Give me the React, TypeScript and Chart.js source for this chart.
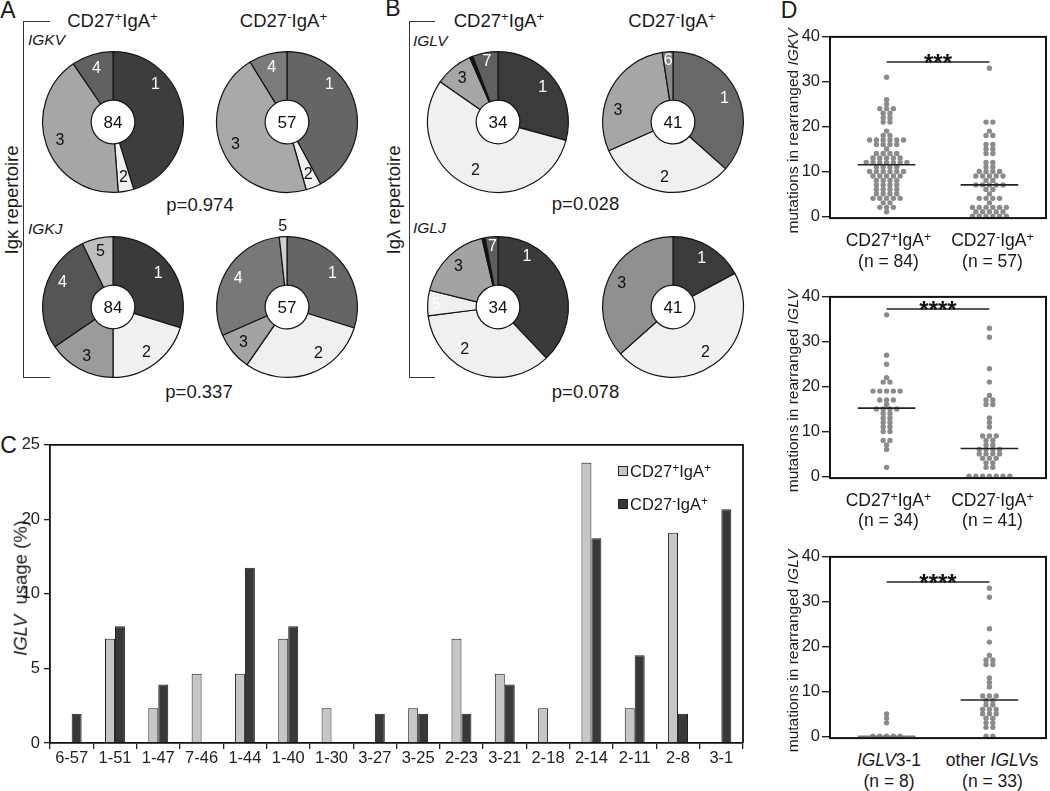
import React, { useEffect, useRef } from "react";
import { Chart, registerables } from "chart.js";
Chart.register(...registerables);

const FONT = '"Liberation Sans", Arial, Helvetica, sans-serif';
const INK = "#1a1a1a";

// ---------- Panel A / B : doughnut segment counts ----------
const igkvSegments = ["1", "2", "3", "4"];
const igkvCD27pos = [38, 3, 35, 8];
const igkvCD27neg = [24, 2, 26, 5];
const igkjSegments = ["1", "2", "3", "4", "5"];
const igkjCD27pos = [25, 17, 13, 23, 6];
const igkjCD27neg = [17, 17, 5, 17, 1];
const iglvSegPos = ["1", "2", "3", "", "7"];
const iglvCD27pos = [10, 19, 3, 0.25, 2];
const iglvSegNeg = ["1", "2", "3", "6"];
const iglvCD27neg = [15, 13, 12, 1];
const igljSegPos = ["1", "2", "5", "3", "", "7"];
const igljCD27pos = [13, 12, 2, 6, 0.25, 1];
const igljSegNeg = ["1", "2", "3"];
const igljCD27neg = [7, 19, 15];
const donutTotals = [84, 57, 84, 57, 34, 41, 34, 41];
const pValues = ["p=0.974", "p=0.337", "p=0.028", "p=0.078"];

// ---------- Panel C : IGLV usage ----------
const iglvGenes = ["6-57", "1-51", "1-47", "7-46", "1-44", "1-40", "1-30", "3-27", "3-25", "2-23", "3-21", "2-18", "2-14", "2-11", "2-8", "3-1"];
const usageCD27pos = [0, 7.0, 2.33, 4.65, 4.65, 7.0, 2.33, 0, 2.33, 7.0, 4.65, 2.33, 18.8, 2.33, 14.1, 0];
const usageCD27neg = [1.96, 7.84, 3.92, 0, 11.76, 7.84, 0, 1.96, 1.96, 1.96, 3.92, 0, 13.73, 5.88, 1.96, 15.69];
const usageTicks = [0, 5, 10, 15, 20];
const usageTickLabels = ["0", "5", "10", "20", "25"];

// ---------- Panel D : mutation counts ----------
const igkvMutPos = [31, 26, 25, 24, 24, 24, 23, 23, 22, 22, 21, 21, 19, 18, 18, 17, 17, 17, 17, 17, 17, 16, 16, 16, 16, 15, 14, 14, 14, 14, 13, 13, 13, 13, 13, 12, 12, 12, 12, 12, 12, 12, 11, 11, 11, 11, 10, 10, 10, 10, 10, 10, 9, 9, 9, 9, 9, 8, 8, 8, 8, 7, 7, 7, 7, 6, 6, 6, 6, 5, 5, 5, 5, 4, 4, 4, 4, 4, 3, 3, 2, 2, 2, 1];
const igkvMutNeg = [33, 21, 21, 19, 18, 18, 16, 16, 15, 15, 14, 14, 12, 12, 11, 11, 10, 10, 10, 10, 9, 9, 9, 9, 9, 8, 8, 7, 7, 7, 7, 7, 6, 6, 5, 4, 4, 4, 4, 3, 2, 2, 2, 2, 2, 2, 1, 1, 1, 1, 1, 0, 0, 0, 0, 0, 0];
const iglvMutPos = [36, 27, 25, 22, 21, 21, 19, 19, 19, 19, 19, 17, 17, 17, 16, 15, 15, 15, 15, 14, 14, 13, 13, 12, 12, 11, 11, 10, 10, 8, 8, 7, 6, 2];
const iglvMutNeg = [33, 31, 24, 21, 18, 17, 17, 16, 16, 13, 12, 11, 9, 9, 9, 8, 8, 7, 7, 6, 6, 6, 6, 5, 5, 5, 5, 4, 4, 4, 3, 3, 2, 2, 0, 0, 0, 0, 0, 0, 0];
const iglv31Mut = [5, 4, 3, 0, 0, 0, 0, 0];
const otherIglvMut = [33, 31, 24, 21, 18, 17, 17, 16, 16, 13, 12, 11, 9, 9, 9, 8, 8, 7, 7, 6, 6, 6, 5, 5, 5, 4, 4, 3, 3, 2, 2, 0, 0];
const mutMedians = [[11.5, 7], [15.2, 6.2], [0, 8.1]];
const mutSigY = [34.4, 37.3, 34.4];
const mutStars = ["***", "****", "****"];
const mutTicks = [0, 10, 20, 30, 40];

const DOT_SPACING = 0.066;

const Sup = ({ c }: { c: string }) => (
  <span style={{ fontSize: "0.72em", position: "relative", top: "-0.42em" }}>{c}</span>
);
const CD = ({ s }: { s: string }) => (
  <span>CD27<Sup c={s} />IgA<Sup c="+" /></span>
);

function Txt({ x, y, size = 18, children, rotate = false, left = false, style = {} }: any) {
  return (
    <div
      style={{
        position: "absolute",
        left: x,
        top: y,
        transform: left ? "translate(0,-50%)" : rotate ? "translate(-50%,-50%) rotate(-90deg)" : "translate(-50%,-50%)",
        whiteSpace: "nowrap",
        fontSize: size,
        lineHeight: 1,
        color: INK,
        ...style,
      }}
    >
      {children}
    </div>
  );
}

function Donut({ cx, cy, values, labels, colors, labelColors, total, angles = [], radii = [] }: any) {
  const ref = useRef<HTMLCanvasElement>(null);
  useEffect(() => {
    const plugin = {
      id: "donutText",
      afterDraw(chart: any) {
        const meta = chart.getDatasetMeta(0);
        const ctx = chart.ctx;
        ctx.save();
        ctx.textAlign = "center";
        ctx.textBaseline = "middle";
        ctx.font = `16px ${FONT}`;
        let px = 0, py = 0;
        meta.data.forEach((arc: any, i: number) => {
          const p = arc.getProps(["x", "y", "startAngle", "endAngle", "outerRadius"], true);
          px = p.x; py = p.y;
          const lab = labels[i];
          if (!lab) return;
          const a = angles[i] != null ? ((angles[i] - 90) * Math.PI) / 180 : (p.startAngle + p.endAngle) / 2;
          const r = p.outerRadius * (radii[i] != null ? radii[i] : 0.8);
          ctx.fillStyle = labelColors[i];
          ctx.fillText(lab, p.x + Math.cos(a) * r, p.y + Math.sin(a) * r);
        });
        ctx.font = `17px ${FONT}`;
        ctx.fillStyle = "#111";
        ctx.fillText(String(total), px, py + 1);
        ctx.restore();
      },
    };
    const chart = new Chart(ref.current as HTMLCanvasElement, {
      type: "doughnut",
      data: {
        labels: labels,
        datasets: [{ data: values, backgroundColor: colors, borderColor: "#141414", borderWidth: 1.2 }],
      },
      options: {
        responsive: false,
        animation: false,
        cutout: "31%",
        layout: { padding: 24 },
        plugins: { legend: { display: false }, tooltip: { enabled: false } },
      } as any,
      plugins: [plugin],
    });
    return () => chart.destroy();
  }, []);
  return (
    <canvas
      ref={ref}
      width={190}
      height={190}
      style={{ position: "absolute", left: cx - 95, top: cy - 95, width: 190, height: 190 }}
    />
  );
}

function BarChartC() {
  const ref = useRef<HTMLCanvasElement>(null);
  useEffect(() => {
    const frame = {
      id: "frameC",
      afterDraw(chart: any) {
        const { left, right, top, bottom } = chart.chartArea;
        const ctx = chart.ctx;
        ctx.save();
        ctx.strokeStyle = "#111";
        ctx.lineWidth = 1.8;
        ctx.beginPath();
        ctx.moveTo(left, top);
        ctx.lineTo(right, top);
        ctx.lineTo(right, bottom);
        ctx.stroke();
        ctx.restore();
      },
    };
    const chart = new Chart(ref.current as HTMLCanvasElement, {
      type: "bar",
      data: {
        labels: iglvGenes,
        datasets: [
          { label: "CD27+IgA+", data: usageCD27pos, backgroundColor: "#c6c6c6", borderColor: "#1e1e1e", borderWidth: 1, categoryPercentage: 0.46, barPercentage: 1 },
          { label: "CD27-IgA+", data: usageCD27neg, backgroundColor: "#383838", borderColor: "#1e1e1e", borderWidth: 1, categoryPercentage: 0.46, barPercentage: 1 },
        ],
      },
      options: {
        responsive: false,
        animation: false,
        layout: { padding: { top: 10, right: 10, left: 0, bottom: 0 } },
        plugins: { legend: { display: false }, tooltip: { enabled: false } },
        scales: {
          x: {
            grid: { display: true, drawOnChartArea: false, drawTicks: true, tickLength: 6, color: "#222", lineWidth: 1.3, offset: true },
            border: { display: true, color: "#111", width: 1.8 },
            ticks: { font: { family: FONT, size: 16.5 }, color: "#222", padding: 0, maxRotation: 0, autoSkip: false },
            afterFit: (s: any) => { s.height = 28; },
          },
          y: {
            min: 0,
            max: 20,
            afterBuildTicks: (s: any) => { s.ticks = usageTicks.map((v) => ({ value: v })); },
            ticks: {
              callback: (_v: any, i: number) => usageTickLabels[i],
              font: { family: FONT, size: 16.5 },
              color: "#222",
              padding: 4,
            },
            grid: { drawOnChartArea: false, tickLength: 6, color: "#222", lineWidth: 1.3 },
            border: { display: true, color: "#111", width: 1.8 },
            afterFit: (s: any) => { s.width = 50; },
          },
        },
      } as any,
      plugins: [frame],
    });
    return () => chart.destroy();
  }, []);
  return <canvas ref={ref} width={753} height={340} style={{ position: "absolute", left: 0, top: 431, width: 753, height: 340 }} />;
}

function DotPlot({ top, groups, medians, medianColors, sigY, stars }: any) {
  const ref = useRef<HTMLCanvasElement>(null);
  useEffect(() => {
    const datasets: any[] = [];
    groups.forEach((vals: number[], gi: number) => {
      const totals = new Map<number, number>();
      vals.forEach((v) => totals.set(v, (totals.get(v) || 0) + 1));
      const seen = new Map<number, number>();
      const pts = vals.map((v) => {
        const n = totals.get(v) as number;
        const k = seen.get(v) || 0;
        seen.set(v, k + 1);
        return { x: gi + (k - (n - 1) / 2) * DOT_SPACING, y: v };
      });
      datasets.push({ data: pts, pointRadius: 2.7, pointBackgroundColor: "#8b8b8b", pointBorderColor: "#8b8b8b", pointBorderWidth: 0, showLine: false, order: 2, clip: false });
      datasets.push({ data: [{ x: gi - 0.28, y: medians[gi] }, { x: gi + 0.28, y: medians[gi] }], showLine: true, borderColor: medianColors[gi], borderWidth: 1.6, pointRadius: 0, order: 1, clip: false });
    });
    datasets.push({ data: [{ x: 0, y: sigY }, { x: 1, y: sigY }], showLine: true, borderColor: "#222", borderWidth: 1.3, pointRadius: 0, order: 1 });
    const deco = {
      id: "decoD",
      afterDraw(chart: any) {
        const { left, right, top: t, bottom } = chart.chartArea;
        const ctx = chart.ctx;
        ctx.save();
        ctx.strokeStyle = "#111";
        ctx.lineWidth = 2;
        ctx.strokeRect(left, t, right - left, bottom - t);
        const xs = chart.scales.x, ys = chart.scales.y;
        ctx.fillStyle = "#111";
        ctx.font = `bold 24px ${FONT}`;
        ctx.textAlign = "center";
        ctx.textBaseline = "alphabetic";
        ctx.fillText(stars, xs.getPixelForValue(0.5), ys.getPixelForValue(sigY) + 9);
        ctx.restore();
      },
    };
    const chart = new Chart(ref.current as HTMLCanvasElement, {
      type: "scatter",
      data: { datasets },
      options: {
        responsive: false,
        animation: false,
        layout: { padding: { top: 10, right: 1, bottom: 7, left: 0 } },
        plugins: { legend: { display: false }, tooltip: { enabled: false } },
        scales: {
          x: { type: "linear", min: -0.55, max: 1.55, display: false },
          y: {
            min: -0.4,
            max: 40,
            afterBuildTicks: (s: any) => { s.ticks = mutTicks.map((v) => ({ value: v })); },
            ticks: { font: { family: FONT, size: 16.5 }, color: "#222", padding: 2 },
            grid: { drawOnChartArea: false, tickLength: 8, color: "#222", lineWidth: 1.4 },
            border: { display: true, color: "#111", width: 2 },
            afterFit: (s: any) => { s.width = 60; },
          },
        },
      } as any,
      plugins: [deco],
    });
    return () => chart.destroy();
  }, []);
  return <canvas ref={ref} width={280} height={205} style={{ position: "absolute", left: 770, top, width: 280, height: 205 }} />;
}

const I = ({ t }: { t: string }) => <span style={{ fontStyle: "italic" }}>{t}</span>;

export default function App() {
  const LIGHT = "#f0f0f0";
  const W = "#ffffff", K = "#111111";
  return (
    <div style={{ position: "absolute", left: 0, top: 0, width: 1050, height: 791, background: "#fff", fontFamily: FONT, color: INK, overflow: "hidden" }}>
      {/* panel letters */}
      <Txt x={8} y={10} size={23}>A</Txt>
      <Txt x={393} y={8} size={23}>B</Txt>
      <Txt x={8.5} y={445} size={23}>C</Txt>
      <Txt x={789} y={10} size={23}>D</Txt>

      {/* brackets */}
      <div style={{ position: "absolute", left: 23, top: 21, width: 26, height: 355, borderLeft: "1.3px solid #333", borderTop: "1.3px solid #333", borderBottom: "1.3px solid #333" }} />
      <div style={{ position: "absolute", left: 409, top: 21, width: 25, height: 355, borderLeft: "1.3px solid #333", borderTop: "1.3px solid #333", borderBottom: "1.3px solid #333" }} />
      <Txt x={12} y={200} size={18.5} rotate>Igκ repertoire</Txt>
      <Txt x={394} y={200} size={18.5} rotate>Igλ repertoire</Txt>

      {/* column titles */}
      <Txt x={112.5} y={20.5} size={18.5}><CD s="+" /></Txt>
      <Txt x={283.5} y={20.5} size={18.5}><CD s="-" /></Txt>
      <Txt x={499} y={20.5} size={18.5}><CD s="+" /></Txt>
      <Txt x={672} y={20.5} size={18.5}><CD s="-" /></Txt>

      <Txt x={28} y={40} size={15.5} left><I t="IGKV" /></Txt>
      <Txt x={28} y={229} size={15.5} left><I t="IGKJ" /></Txt>
      <Txt x={413} y={41} size={15.5} left><I t="IGLV" /></Txt>
      <Txt x={413} y={228} size={15.5} left><I t="IGLJ" /></Txt>

      <Txt x={200} y={205} size={18.5}>{pValues[0]}</Txt>
      <Txt x={199} y={392} size={18.5}>{pValues[1]}</Txt>
      <Txt x={585.5} y={204} size={18.5}>{pValues[2]}</Txt>
      <Txt x={585.5} y={392} size={18.5}>{pValues[3]}</Txt>

      <Donut cx={113} cy={122} values={igkvCD27pos} labels={igkvSegments} total={donutTotals[0]}
        colors={["#3d3d3d", LIGHT, "#a6a6a6", "#606060"]} labelColors={[W, K, K, W]} angles={[49]} />
      <Donut cx={287} cy={122} values={igkvCD27neg} labels={igkvSegments} total={donutTotals[1]}
        colors={["#656565", LIGHT, "#a9a9a9", "#7b7b7b"]} labelColors={[W, K, K, W]} angles={[49]} />
      <Donut cx={113} cy={307} values={igkjCD27pos} labels={igkjSegments} total={donutTotals[2]}
        colors={["#3a3a3a", LIGHT, "#9b9b9b", "#555555", "#bebebe"]} labelColors={[W, K, K, W, K]} angles={[null, null, null, 296]} />
      <Donut cx={287} cy={307} values={igkjCD27neg} labels={igkjSegments} total={donutTotals[3]}
        colors={["#656565", LIGHT, "#a3a3a3", "#787878", "#cfcfcf"]} labelColors={[W, K, K, W, K]} angles={[null, 146, null, null, 357]} radii={[null, null, null, null, 1.15]} />

      <Donut cx={498} cy={122} values={iglvCD27pos} labels={iglvSegPos} total={donutTotals[4]}
        colors={["#3b3b3b", LIGHT, "#a6a6a6", "#111111", "#606060"]} labelColors={[W, K, K, W, W]} radii={[0.8, 0.76, 0.8, 0.8, 0.87]} />
      <Donut cx={672.5} cy={122} values={iglvCD27neg} labels={iglvSegNeg} total={donutTotals[5]}
        colors={["#686868", LIGHT, "#a6a6a6", "#888888"]} labelColors={[W, K, K, W]} angles={[null, null, 282, null]} radii={[null, null, null, 0.87]} />
      <Donut cx={498} cy={307} values={igljCD27pos} labels={igljSegPos} total={donutTotals[6]}
        colors={["#3a3a3a", LIGHT, LIGHT, "#a3a3a3", "#111111", "#5e5e5e"]} labelColors={[W, K, W, K, W, W]} angles={[30, 218, 272, null, null, null]} radii={[0.82, 0.77, 0.88, 0.8, 0.8, 0.86]} />
      <Donut cx={672.5} cy={307} values={igljCD27neg} labels={igljSegNeg} total={donutTotals[7]}
        colors={["#3b3b3b", LIGHT, "#909090"]} labelColors={[W, K, K]} />

      {/* panel C */}
      <BarChartC />
      <Txt x={21} y={588} size={18.5} rotate><I t="IGLV" />&nbsp; usage (%)</Txt>
      <div style={{ position: "absolute", left: 618, top: 466, width: 8, height: 8, background: "#c6c6c6", border: "1px solid #222" }} />
      <div style={{ position: "absolute", left: 618, top: 499, width: 8, height: 8, background: "#383838", border: "1px solid #222" }} />
      <Txt x={630} y={470.5} size={16.5} left><CD s="+" /></Txt>
      <Txt x={630} y={503.5} size={16.5} left><CD s="-" /></Txt>

      {/* panel D */}
      <DotPlot top={25} groups={[igkvMutPos, igkvMutNeg]} medians={mutMedians[0]} medianColors={["#222", "#222"]} sigY={mutSigY[0]} stars={mutStars[0]} />
      <DotPlot top={285} groups={[iglvMutPos, iglvMutNeg]} medians={mutMedians[1]} medianColors={["#222", "#222"]} sigY={mutSigY[1]} stars={mutStars[1]} />
      <DotPlot top={545} groups={[iglv31Mut, otherIglvMut]} medians={mutMedians[2]} medianColors={["#777", "#222"]} sigY={mutSigY[2]} stars={mutStars[2]} />

      <Txt x={793} y={130.5} size={15.5} rotate>mutations in rearranged <I t="IGKV" /></Txt>
      <Txt x={793} y={390.5} size={15.5} rotate>mutations in rearranged <I t="IGLV" /></Txt>
      <Txt x={793} y={650.5} size={15.5} rotate>mutations in rearranged <I t="IGLV" /></Txt>

      <Txt x={888.5} y={241} size={17.5}><CD s="+" /></Txt>
      <Txt x={888.5} y={261.5} size={17.5}>(n = 84)</Txt>
      <Txt x={992.5} y={241} size={17.5}><CD s="-" /></Txt>
      <Txt x={992.5} y={261.5} size={17.5}>(n = 57)</Txt>

      <Txt x={888.5} y={501} size={17.5}><CD s="+" /></Txt>
      <Txt x={888.5} y={521} size={17.5}>(n = 34)</Txt>
      <Txt x={992.5} y={501} size={17.5}><CD s="-" /></Txt>
      <Txt x={992.5} y={521} size={17.5}>(n = 41)</Txt>

      <Txt x={889} y={761} size={17.5}><I t="IGLV" />3-1</Txt>
      <Txt x={889} y={781.5} size={17.5}>(n = 8)</Txt>
      <Txt x={992} y={761} size={17.5}>other <I t="IGLV" />s</Txt>
      <Txt x={992.5} y={781.5} size={17.5}>(n = 33)</Txt>
    </div>
  );
}
